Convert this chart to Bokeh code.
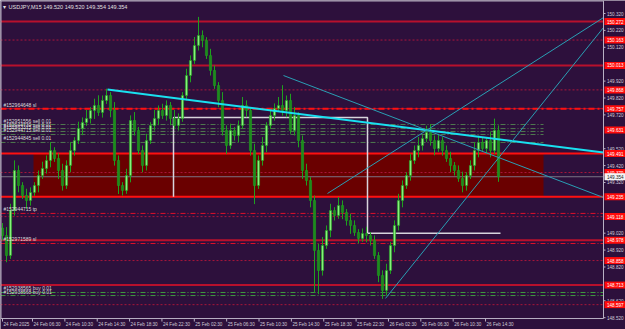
from bokeh.plotting import figure
from bokeh.models import Range1d, Label, ColumnDataSource
from bokeh.embed import file_html
from bokeh.resources import INLINE
from bokeh.core.properties import value

# ---------------- data ----------------
open0 = 149.050
closes = [
    149.006, 148.888, 149.154, 149.391, 149.302, 149.243, 149.213, 149.261, 149.302, 149.361,
    149.403, 149.450, 149.509, 149.462, 149.391, 149.302, 149.421, 149.509, 149.568, 149.640,
    149.675, 149.699, 149.746, 149.776, 149.734, 149.805, 149.835, 149.746, 149.450, 149.302,
    149.273, 149.361, 149.687, 149.628, 149.509, 149.421, 149.568, 149.657, 149.699, 149.746,
    149.716, 149.776, 149.699, 149.657, 149.699, 149.835, 149.953, 150.042, 150.131, 150.190,
    150.160, 150.071, 149.983, 149.894, 149.805, 149.628, 149.539, 149.628, 149.598, 149.657,
    149.776, 149.746, 149.509, 149.302, 149.450, 149.539, 149.657, 149.716, 149.758, 149.776,
    149.746, 149.805, 149.628, 149.716, 149.568, 149.391, 149.332, 149.213, 148.918, 148.799,
    148.947, 149.036, 149.154, 149.125, 149.184, 149.143, 149.095, 149.066, 149.024, 148.989,
    149.018, 149.006, 148.977, 148.888, 148.770, 148.681, 148.799, 148.947, 149.066, 149.213,
    149.302, 149.361, 149.450, 149.509, 149.539, 149.580, 149.616, 149.568, 149.521, 149.568,
    149.509, 149.462, 149.421, 149.391, 149.344, 149.302, 149.361, 149.421, 149.509, 149.557,
    149.521, 149.568, 149.509, 149.628, 149.354]
wick_up = [
    0.03, 0.05, 0.04, 0.06, 0.03, 0.02, 0.04, 0.03, 0.02, 0.03,
    0.04, 0.03, 0.05, 0.02, 0.03, 0.04, 0.03, 0.05, 0.02, 0.04,
    0.03, 0.05, 0.02, 0.04, 0.06, 0.03, 0.04, 0.02, 0.05, 0.03,
    0.02, 0.04, 0.03, 0.05, 0.02, 0.03, 0.04, 0.02, 0.05, 0.03,
    0.04, 0.03, 0.02, 0.05, 0.03, 0.02, 0.04, 0.03, 0.05, 0.11,
    0.03, 0.02, 0.04, 0.03, 0.02, 0.05, 0.03, 0.04, 0.02, 0.03,
    0.05, 0.03, 0.02, 0.04, 0.03, 0.05, 0.02, 0.04, 0.03, 0.05,
    0.12, 0.03, 0.04, 0.05, 0.02, 0.03, 0.04, 0.02, 0.03, 0.04,
    0.05, 0.03, 0.04, 0.02, 0.05, 0.03, 0.02, 0.04, 0.03, 0.02,
    0.03, 0.04, 0.02, 0.03, 0.02, 0.03, 0.04, 0.02, 0.03, 0.04,
    0.03, 0.02, 0.04, 0.03, 0.05, 0.02, 0.04, 0.05, 0.03, 0.04,
    0.02, 0.03, 0.04, 0.02, 0.03, 0.04, 0.02, 0.03, 0.05, 0.04,
    0.03, 0.02, 0.05, 0.07, 0.03]
wick_dn = [
    0.03, 0.04, 0.02, 0.03, 0.04, 0.02, 0.05, 0.03, 0.02, 0.04,
    0.02, 0.03, 0.04, 0.02, 0.05, 0.03, 0.02, 0.04, 0.03, 0.02,
    0.04, 0.02, 0.03, 0.05, 0.02, 0.03, 0.02, 0.04, 0.03, 0.05,
    0.03, 0.02, 0.04, 0.03, 0.02, 0.04, 0.03, 0.02, 0.03, 0.04,
    0.02, 0.03, 0.04, 0.02, 0.03, 0.02, 0.03, 0.04, 0.02, 0.03,
    0.04, 0.02, 0.03, 0.02, 0.04, 0.03, 0.05, 0.02, 0.03, 0.04,
    0.02, 0.04, 0.03, 0.11, 0.02, 0.03, 0.04, 0.02, 0.03, 0.02,
    0.03, 0.04, 0.02, 0.03, 0.04, 0.05, 0.03, 0.04, 0.25, 0.14,
    0.03, 0.02, 0.04, 0.03, 0.02, 0.04, 0.03, 0.05, 0.02, 0.03,
    0.02, 0.04, 0.03, 0.02, 0.04, 0.05, 0.03, 0.02, 0.04, 0.03,
    0.04, 0.02, 0.03, 0.02, 0.04, 0.03, 0.02, 0.03, 0.04, 0.02,
    0.03, 0.02, 0.04, 0.03, 0.02, 0.04, 0.03, 0.02, 0.03, 0.04,
    0.02, 0.03, 0.04, 0.02, 0.03]

time_labels = ["24 Feb 2025", "24 Feb 06:30", "24 Feb 10:30", "24 Feb 14:30", "24 Feb 18:30",
               "24 Feb 22:30", "25 Feb 02:30", "25 Feb 06:30", "25 Feb 10:30", "25 Feb 14:30",
               "25 Feb 18:30", "25 Feb 22:30", "26 Feb 02:30", "26 Feb 06:30", "26 Feb 10:30",
               "26 Feb 14:30"]
price_ticks = [150.32, 150.22, 150.12, 149.92, 149.82, 149.72, 149.52, 149.42, 149.32,
               149.02, 148.92, 148.82, 148.62, 148.52]

solid_dark_levels = [150.272, 150.013, 148.978, 148.713]
solid_bright_levels = [149.491, 149.235]
dashdot_level = 149.757
dotted_levels = [150.163, 149.868, 149.379, 149.118, 148.858, 148.597]
box_labels = [150.272, 150.163, 150.013, 149.868, 149.757, 149.631, 149.491, 149.379,
              149.235, 149.118, 148.978, 148.858, 148.713, 148.597]
current_price = 149.354

sell_levels = [149.663, 149.639, 149.622, 149.604, 149.557]
sell_texts = ["#152951556 sell 0.01", "#152944739 sell 0.01", "#152963315 sell 0.01",
              "#152944715 sell 0.01", "#152944845 sell 0.01"]
buy_levels = [148.669, 148.651]
buy_texts = ["#152938565 buy 0.01", "#152938568 buy 0.01"]
red_order_levels = [149.757, 149.137, 148.959]
red_order_texts = ["#152964648 sl", "#152944715 tp", "#152971589 sl"]

zone = dict(left=7.75, right=135.25, top=149.491, bottom=149.235)
box_top = 149.704
box_left, box_right, box_end = 42.75, 91.25, 124.5
box_low_left, box_low_right = 149.235, 149.020

cyan_line = ([26.25, 150.25], [149.870, 149.497])
thin_lines = [([70.25, 150.25], [149.953, 149.231]),
              ([81.25, 150.25], [149.255, 150.296]),
              ([95.75, 150.25], [148.634, 150.237])]

# ---------------- styling / geometry ----------------
BG = "#2d103c"
AX = "#b8b0c4"
FONT = "Liberation Sans"
PX_X = 4.0          # screen pixels per candle
PX_Y = 169.0        # screen pixels per 1.000 of price
FS = "4.6px"

x0, x_end = -0.5, 155.75        # whole window width
x_axis = 150.25                 # price-scale line
y_top, y_bot = 150.397, 148.450 # whole window height
y_axis = 148.515                # time-scale line

p = figure(width=625, height=329, x_range=Range1d(x0, x_end), y_range=Range1d(y_bot, y_top),
           toolbar_location=None, output_backend="svg",
           x_axis_location=None, y_axis_location=None,
           min_border_left=0, min_border_top=0, min_border_right=0, min_border_bottom=0)
p.background_fill_color = BG
p.border_fill_color = BG
p.outline_line_color = None
p.xgrid.visible = False
p.ygrid.visible = False

# zone rectangle
p.quad(left=[zone["left"]], right=[zone["right"]], top=[zone["top"]], bottom=[zone["bottom"]],
       fill_color="#6a0000", line_color=None)

# horizontal levels
for lv in dotted_levels:
    p.line([x0, x_axis], [lv, lv], line_color="#a8163a", line_width=1, line_dash="2 2")
for lv in sell_levels:
    p.line([x0, 135.25], [lv, lv], line_color="#4f7a4f", line_width=1, line_dash="5 2 1 2")
for lv in buy_levels:
    p.line([x0, x_axis], [lv, lv], line_color="#3f9a3f", line_width=1, line_dash="5 2 1 2")
for lv in red_order_levels[1:]:
    p.line([x0, x_axis], [lv, lv], line_color="#e0102a", line_width=1, line_dash="5 2 1 2")
p.line([x0, x_axis], [current_price, current_price], line_color="#7a7484", line_width=1)
for lv in solid_dark_levels:
    p.line([x0, x_axis], [lv, lv], line_color="#b8102c", line_width=2)
for lv in solid_bright_levels:
    p.line([x0, x_axis], [lv, lv], line_color="#ff1010", line_width=2)
p.line([x0, x_axis], [dashdot_level, dashdot_level], line_color="#b8102c", line_width=1)
p.line([x0, x_axis], [dashdot_level, dashdot_level], line_color="#ff1010", line_width=2,
       line_dash="6 3 2 3")

# white box / step lines
p.line([box_left, box_left, box_right, box_right, box_end],
       [box_low_left, box_top, box_top, box_low_right, box_low_right],
       line_color="#d8d4dc", line_width=1.5)

# candles
n = len(closes)
idx = list(range(n))
opens = [open0] + closes[:-1]
highs = [max(o, c) + u for o, c, u in zip(opens, closes, wick_up)]
lows = [min(o, c) - d for o, c, d in zip(opens, closes, wick_dn)]
bull = [c >= o for o, c in zip(opens, closes)]
src = ColumnDataSource(dict(x=idx, o=opens, c=closes, h=highs, l=lows,
                            fill=["#86f27a" if b else "#1c8c1c" for b in bull]))
p.segment(x0="x", y0="l", x1="x", y1="h", source=src, line_color="#1fa01f", line_width=1)
p.vbar(x="x", top="o", bottom="c", width=0.55, source=src, fill_color="fill",
       line_color="#1fa01f", line_width=0.6)

# trend lines
p.line(cyan_line[0], cyan_line[1], line_color="#19e0f0", line_width=2)
for xs, ys in thin_lines:
    p.line(xs, ys, line_color="#2a9fb4", line_width=1)

# order labels on the left
txt_src = ColumnDataSource(dict(x=[x0] * 10, y=sell_levels + buy_levels + red_order_levels,
                                t=sell_texts + buy_texts + red_order_texts))
p.text(x="x", y="y", text="t", source=txt_src, x_offset=3, y_offset=-1,
       text_font=value(FONT), text_font_size="5px", text_color="#dcdcdc",
       text_baseline="bottom", text_align="left")

# title
p.add_layout(Label(x=x0, y=y_top, x_offset=8, y_offset=-9,
                   text="USDJPY,M15  149.520 149.520 149.354 149.354",
                   text_font=FONT, text_font_size="5.5px", text_color="#e0e0e0"))
p.add_layout(Label(x=x0, y=y_top, x_offset=2, y_offset=-9, text="\u25BE",
                   text_font=FONT, text_font_size="6px", text_color="#e0e0e0"))

# ---- frame and scales (drawn in MT4 style) ----
p.line([x0 + 0.5 / PX_X, x0 + 0.5 / PX_X], [y_axis, y_top], line_color=AX, line_width=1)
p.line([x0, x_axis], [y_top - 0.5 / PX_Y, y_top - 0.5 / PX_Y], line_color=AX, line_width=1)
p.line([x_axis, x_axis], [y_axis, y_top], line_color=AX, line_width=1)
p.line([x0, x_axis], [y_axis, y_axis], line_color=AX, line_width=1)

# time scale
t_ticks = [0] + [7.5 + 8.09 * k for k in range(len(time_labels) - 1)]
p.segment(x0=t_ticks, y0=[y_axis] * len(t_ticks), x1=t_ticks,
          y1=[y_axis - 3 / PX_Y] * len(t_ticks), line_color=AX, line_width=1)
p.text(x=t_ticks, y=[y_axis] * len(t_ticks), text=time_labels, x_offset=1, y_offset=3,
       text_font=value(FONT), text_font_size=FS, text_color="#d0cad8",
       text_baseline="top", text_align="left")

# price scale
p.segment(x0=[x_axis] * len(price_ticks), y0=price_ticks,
          x1=[x_axis + 2 / PX_X] * len(price_ticks), y1=price_ticks, line_color=AX, line_width=1)
p.text(x=[x_axis] * len(price_ticks), y=price_ticks, text=[f"{t:.3f}" for t in price_ticks],
       x_offset=3.5, y_offset=0, text_font=value(FONT), text_font_size=FS,
       text_color="#d0cad8", text_baseline="middle", text_align="left")

# price boxes on the price scale
hb = 3.5 / PX_Y
p.quad(left=[x_axis + 1 / PX_X] * len(box_labels), right=[x_end] * len(box_labels),
       top=[lv + hb for lv in box_labels], bottom=[lv - hb for lv in box_labels],
       fill_color="#ff0a0a", line_color=None)
p.text(x=[x_axis] * len(box_labels), y=box_labels, text=[f"{lv:.3f}" for lv in box_labels],
       x_offset=3.5, text_font=value(FONT), text_font_size=FS, text_color="#ffffff",
       text_baseline="middle", text_align="left")
p.quad(left=[x_axis + 1 / PX_X], right=[x_end], top=[current_price + hb],
       bottom=[current_price - hb], fill_color="#f4f4f4", line_color=None)
p.text(x=[x_axis], y=[current_price], text=[f"{current_price:.3f}"], x_offset=3.5,
       text_font=value(FONT), text_font_size=FS, text_color="#202020",
       text_baseline="middle", text_align="left")

open("out.html", "w").write(file_html(p, INLINE))
